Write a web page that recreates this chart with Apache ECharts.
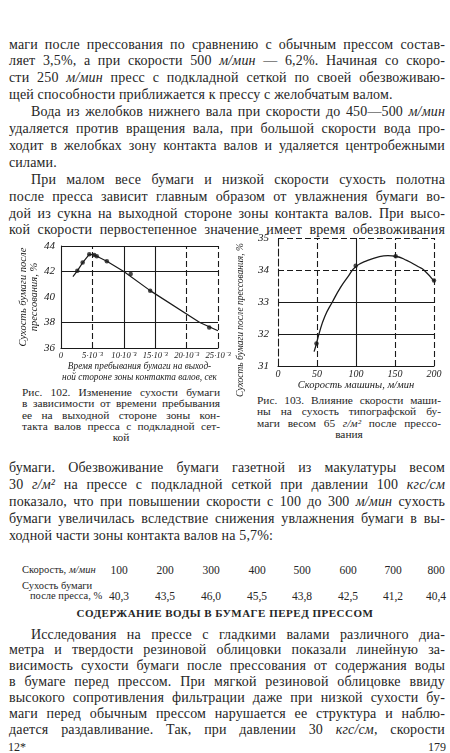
<!DOCTYPE html>
<html><head><meta charset="utf-8">
<script src="https://cdn.jsdelivr.net/npm/echarts@6/dist/echarts.min.js"></script>
<style>
html,body{margin:0;padding:0;background:#fff;}
#page{position:relative;width:450px;height:753px;overflow:hidden;font-family:"Liberation Serif","DejaVu Serif",serif;color:#262626;}
#chart{position:absolute;left:0;top:0;width:450px;height:753px;}
.ln{position:absolute;left:9px;width:436px;height:17px;font-size:14px;line-height:17px;letter-spacing:0.15px;text-align:justify;text-align-last:justify;white-space:nowrap;}
.ln.last{text-align:left;text-align-last:left;}
.ind{padding-left:22px;width:414px;}
.cap{position:absolute;font-size:11.4px;line-height:11px;height:11px;text-align:justify;text-align-last:justify;white-space:nowrap;}
.cap.c{text-align:center;text-align-last:center;}
.tb{position:absolute;font-size:10.5px;line-height:12px;white-space:nowrap;}
.tv{position:absolute;font-size:11.5px;line-height:12px;width:40px;margin-left:-20px;text-align:center;}
.hd{position:absolute;left:0;width:450px;text-align:center;font-weight:bold;font-size:11px;letter-spacing:0.5px;line-height:12px;}
.pg{position:absolute;font-size:12px;line-height:14px;}
i{font-style:italic;}
</style></head>
<body><div id="page">
<div id="text"></div>
<div id="chart"></div>
</div>
<script>
// ---- data ----
const fig102TimeTicks = ["0", "5·10⁻³", "10·10⁻³", "15·10⁻³", "20·10⁻³", "25·10⁻³"];
const fig102DrynessTicks = [36, 38, 40, 42, 44];
const fig102CurveTime = [1.9, 2.6, 3.45, 4.5, 5.3, 7.3, 10, 14.2, 22.1, 25];
const fig102CurveDryness = [41.6, 42.05, 42.7, 43.35, 43.3, 42.8, 42.0, 40.5, 38.0, 37.35];
const fig102PointTime = [2.6, 3.45, 4.5, 5.3, 5.7, 7.3, 11.1, 14.2, 23.6];
const fig102PointDryness = [42.05, 42.7, 43.35, 43.3, 43.2, 42.8, 41.8, 40.5, 37.6];

const fig103SpeedTicks = [0, 50, 100, 150, 200];
const fig103DrynessTicks = [31, 32, 33, 34, 35];
const fig103CurveSpeed = [46.3, 49.3, 52.5, 60, 69.7, 80, 90, 99.6, 115, 130, 141, 150.9, 165, 180, 187, 200];
const fig103CurveDryness = [31.45, 31.7, 32.0, 32.55, 33.0, 33.45, 33.8, 34.1, 34.3, 34.42, 34.45, 34.43, 34.3, 34.1, 34.0, 33.65];
const fig103PointSpeed = [49.3, 99.6, 150.9, 200];
const fig103PointDryness = [31.7, 34.13, 34.43, 33.67];

const tableSpeed = ["100", "200", "300", "400", "500", "600", "700", "800"];
const tableDryness = ["40,3", "43,5", "46,0", "45,5", "43,8", "42,5", "41,2", "40,4"];

// ---- page text ----
const topLines = [
 ["маги после прессования по сравнению с обычным прессом состав-", ""],
 ["ляет 3,5%, а при скорости 500 <i>м/мин</i> — 6,2%. Начиная со скоро-", ""],
 ["сти 250 <i>м/мин</i> пресс с подкладной сеткой по своей обезвоживаю-", ""],
 ["щей способности приближается к прессу с желобчатым валом.", "last"],
 ["Вода из желобков нижнего вала при скорости до 450—500 <i>м/мин</i>", "ind"],
 ["удаляется против вращения вала, при большой скорости вода про-", ""],
 ["ходит в желобках зону контакта валов и удаляется центробежными", ""],
 ["силами.", "last"],
 ["При малом весе бумаги и низкой скорости сухость полотна", "ind"],
 ["после пресса зависит главным образом от увлажнения бумаги во-", ""],
 ["дой из сукна на выходной стороне зоны контакта валов. При высо-", ""],
 ["кой скорости первостепенное значение имеет время обезвоживания", ""]
];
const midLines = [
 ["бумаги. Обезвоживание бумаги газетной из макулатуры весом", ""],
 ["30 <i>г/м²</i> на прессе с подкладной сеткой при давлении 100 <i>кгс/см</i>", ""],
 ["показало, что при повышении скорости с 100 до 300 <i>м/мин</i> сухость", ""],
 ["бумаги увеличилась вследствие снижения увлажнения бумаги в вы-", ""],
 ["ходной части зоны контакта валов на 5,7%:", "last"]
];
const botLines = [
 ["Исследования на прессе с гладкими валами различного диа-", "ind"],
 ["метра и твердости резиновой облицовки показали линейную за-", ""],
 ["висимость сухости бумаги после прессования от содержания воды", ""],
 ["в бумаге перед прессом. При мягкой резиновой облицовке ввиду", ""],
 ["высокого сопротивления фильтрации даже при низкой сухости бу-", ""],
 ["маги перед обычным прессом нарушается ее структура и наблю-", ""],
 ["дается раздавливание. Так, при давлении 30 <i>кгс/см</i>, скорости", ""]
];
const cap102 = ["Рис. 102. Изменение сухости бумаги", "в зависимости от времени пребывания", "ее на выходной стороне зоны кон-", "такта валов пресса с подкладной сет-", "кой"];
const cap103 = ["Рис. 103. Влияние скорости маши-", "ны на сухость типографской бу-", "маги весом 65 <i>г/м²</i> после прессо-", "вания"];

let html = "";
function block(lines, y0, dy){
  lines.forEach((l,i)=>{
    const cls = "ln " + (l[1]||"");
    html += `<div class="${cls}" style="top:${(y0+i*dy-8.5).toFixed(1)}px">${l[0]}</div>`;
  });
}
block(topLines, 44, 16.9);
block(midLines, 467, 17.2);
block(botLines, 634, 15.9);
cap102.forEach((t,i)=>{
  const last = i===cap102.length-1;
  html += `<div class="cap${last?' c':''}" style="left:22px;width:198px;top:${387+i*11.3}px">${t}</div>`;
});
cap103.forEach((t,i)=>{
  const last = i===cap103.length-1;
  html += `<div class="cap${last?' c':''}" style="left:257px;width:184px;top:${395+i*11.3}px">${t}</div>`;
});
// table
html += `<div class="tb" style="left:22px;top:564px">Скорость, <i>м/мин</i></div>`;
html += `<div class="tb" style="left:22px;top:580px">Сухость бумаги</div>`;
html += `<div class="tb" style="left:30px;top:590px">после пресса, %</div>`;
const colX = [119, 165, 211, 257, 302, 348, 393, 436];
tableSpeed.forEach((v,i)=>{ html += `<div class="tv" style="left:${colX[i]}px;top:564px">${v}</div>`; });
tableDryness.forEach((v,i)=>{ html += `<div class="tv" style="left:${colX[i]}px;top:590px">${v}</div>`; });
html += `<div class="hd" style="top:607px">СОДЕРЖАНИЕ ВОДЫ В БУМАГЕ ПЕРЕД ПРЕССОМ</div>`;
html += `<div class="pg" style="left:8px;top:740px">12*</div>`;
html += `<div class="pg" style="left:428px;top:740px">179</div>`;
document.getElementById("text").innerHTML = html;

// ---- chart ----
const ink = "#1a1a1a";
const tickFont = {fontFamily:"Liberation Serif", fontStyle:"italic", fontSize:11, color:ink};
function gridLines(xi, solids, dashes){
  const mk = (arr, type) => arr.map(d => Object.assign({}, d, {lineStyle:{type:type, color:ink, width:1.1}}));
  return {
    type:"line", xAxisIndex:xi, yAxisIndex:xi, data:[], silent:true,
    markLine:{symbol:"none", silent:true, label:{show:false}, animation:false,
      data: mk(solids,"solid").concat(mk(dashes,[6,3]))}
  };
}
const chart = echarts.init(document.getElementById("chart"), null, {renderer:"canvas"});
const option = {
  animation:false,
  backgroundColor:"transparent",
  grid:[
    {left:61, top:246, width:157, height:102},
    {left:278, top:238, width:156, height:128}
  ],
  xAxis:[
    {gridIndex:0, type:"value", min:0, max:25, interval:5,
     axisLine:{show:true, onZero:false, lineStyle:{color:ink, width:1.1}}, axisTick:{show:false}, splitLine:{show:false},
     axisLabel:Object.assign({}, tickFont, {margin:3, fontSize:8.6, formatter:v=>fig102TimeTicks[Math.round(v/5)]}),
     name:"Время пребывания бумаги на выход-\nной стороне зоны контакта валов, сек",
     nameLocation:"middle", nameGap:8,
     nameTextStyle:{fontFamily:"Liberation Serif", fontStyle:"italic", fontSize:9.3, lineHeight:11, color:ink, verticalAlign:"top"}},
    {gridIndex:1, type:"value", min:0, max:200, interval:50,
     axisLine:{show:true, onZero:false, lineStyle:{color:ink, width:1.1}}, axisTick:{show:false}, splitLine:{show:false},
     axisLabel:Object.assign({}, tickFont, {margin:3, fontSize:10}),
     name:"Скорость машины, м/мин", nameLocation:"middle", nameGap:9,
     nameTextStyle:{fontFamily:"Liberation Serif", fontStyle:"italic", fontSize:10.5, color:ink, verticalAlign:"top"}}
  ],
  yAxis:[
    {gridIndex:0, type:"value", min:36, max:44, interval:2,
     axisLine:{show:true, onZero:false, lineStyle:{color:ink, width:1.1}}, axisTick:{show:false}, splitLine:{show:false},
     axisLabel:Object.assign({}, tickFont, {margin:6}),
     name:"Сухость бумаги после\nпрессования, %", nameLocation:"middle", nameGap:10, nameRotate:90,
     nameTextStyle:{fontFamily:"Liberation Serif", fontStyle:"italic", fontSize:10.5, lineHeight:11, color:ink}},
    {gridIndex:1, type:"value", min:31, max:35, interval:1,
     axisLine:{show:true, onZero:false, lineStyle:{color:ink, width:1.1, type:[7,3]}}, axisTick:{show:false}, splitLine:{show:false},
     axisLabel:Object.assign({}, tickFont, {margin:9}),
     name:"Сухость бумаги после прессования, %", nameLocation:"middle", nameGap:33, nameRotate:90,
     nameTextStyle:{fontFamily:"Liberation Serif", fontStyle:"italic", fontSize:9.5, color:ink, padding:[0,36,0,0]}}
  ],
  series:[
    gridLines(0, [{yAxis:42},{yAxis:38},{yAxis:44},{xAxis:10},{xAxis:15}], [{xAxis:5},{xAxis:20},{xAxis:25}]),
    gridLines(1, [{yAxis:33},{yAxis:32},{xAxis:100}], [{yAxis:34},{yAxis:35},{xAxis:50},{xAxis:150},{xAxis:200}]),
    {type:"line", xAxisIndex:0, yAxisIndex:0, showSymbol:false, silent:true,
     data: fig102CurveTime.map((x,i)=>[x, fig102CurveDryness[i]]),
     lineStyle:{color:ink, width:1.2}},
    {type:"scatter", xAxisIndex:0, yAxisIndex:0, symbolSize:4.5, silent:true,
     data: fig102PointTime.map((x,i)=>[x, fig102PointDryness[i]]),
     itemStyle:{color:ink}},
    {type:"line", xAxisIndex:1, yAxisIndex:1, showSymbol:false, silent:true, smooth:true,
     data: fig103CurveSpeed.map((x,i)=>[x, fig103CurveDryness[i]]),
     lineStyle:{color:ink, width:1.3}},
    {type:"scatter", xAxisIndex:1, yAxisIndex:1, symbolSize:4.5, silent:true,
     data: fig103PointSpeed.map((x,i)=>[x, fig103PointDryness[i]]),
     itemStyle:{color:ink}}
  ]
};
chart.setOption(option);
</script>
</body></html>
